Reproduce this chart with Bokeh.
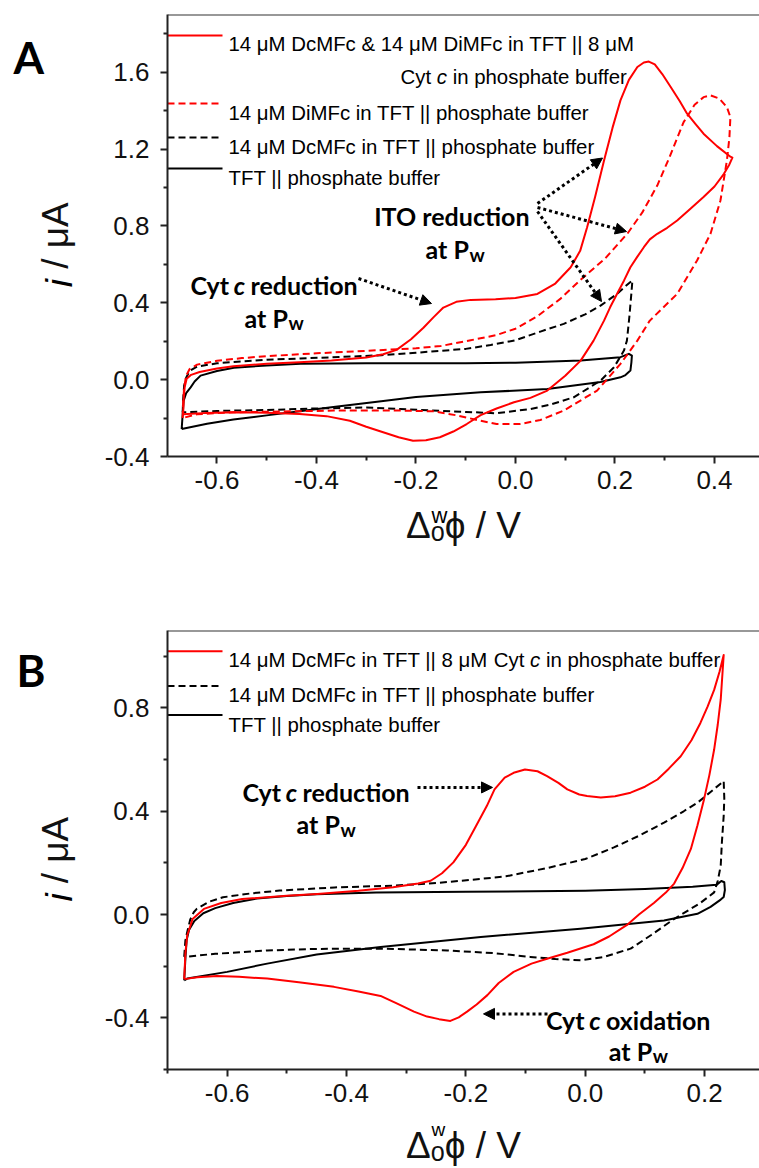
import math
from bokeh.plotting import figure
from bokeh.models import Label, Arrow, NormalHead, Span, FixedTicker, Range1d
from bokeh.layouts import column
from bokeh.embed import file_html
from bokeh.resources import INLINE

# ------------------------------------------------------------------ data
# Panel A  (potential V, current uA) closed CV loops
A_RED_SOLID = [(-0.668,-0.180),(-0.667,-0.100),(-0.665,-0.040),(-0.661,0.005),(-0.652,0.025),(-0.635,0.040),
    (-0.600,0.058),(-0.567,0.070),(-0.500,0.082),(-0.434,0.090),(-0.370,0.100),(-0.300,0.115),(-0.266,0.132),
    (-0.239,0.155),(-0.210,0.210),(-0.185,0.270),(-0.165,0.324),(-0.145,0.375),(-0.119,0.405),(-0.090,0.415),
    (-0.040,0.418),(0.000,0.425),(0.044,0.446),(0.080,0.500),(0.111,0.585),(0.130,0.670),(0.144,0.793),
    (0.160,0.950),(0.178,1.140),(0.195,1.310),(0.211,1.453),(0.228,1.560),(0.245,1.627),(0.258,1.650),
    (0.268,1.655),(0.280,1.640),(0.295,1.590),(0.312,1.523),(0.330,1.450),(0.345,1.384),(0.362,1.330),
    (0.378,1.280),(0.405,1.215),(0.432,1.160),(0.436,1.155),(0.430,1.120),(0.419,1.071),(0.400,1.005),
    (0.378,0.950),(0.350,0.885),(0.325,0.828),(0.305,0.790),(0.285,0.759),(0.270,0.730),(0.258,0.689),
    (0.245,0.640),(0.231,0.585),(0.218,0.515),(0.204,0.446),(0.190,0.375),(0.178,0.307),(0.157,0.203),
    (0.131,0.099),(0.100,0.020),(0.064,-0.057),(0.030,-0.095),(-0.003,-0.118),(-0.038,-0.150),(-0.070,-0.185),
    (-0.098,-0.231),(-0.125,-0.270),(-0.152,-0.300),(-0.180,-0.315),(-0.206,-0.318),(-0.235,-0.300),
    (-0.266,-0.274),(-0.300,-0.245),(-0.333,-0.214),(-0.380,-0.190),(-0.434,-0.179),(-0.500,-0.172),
    (-0.567,-0.170),(-0.620,-0.173),(-0.668,-0.180)]
A_RED_DASH = [(-0.669,-0.200),(-0.668,-0.120),(-0.666,-0.040),(-0.662,0.020),(-0.655,0.055),(-0.640,0.078),
    (-0.600,0.098),(-0.550,0.112),(-0.500,0.122),(-0.400,0.137),(-0.300,0.150),(-0.200,0.163),(-0.150,0.175),
    (-0.090,0.205),(-0.038,0.232),(0.000,0.265),(0.044,0.330),(0.090,0.420),(0.131,0.520),(0.180,0.630),
    (0.225,0.760),(0.255,0.870),(0.285,1.010),(0.310,1.160),(0.338,1.340),(0.360,1.430),(0.378,1.470),
    (0.392,1.479),(0.410,1.462),(0.425,1.418),(0.432,1.366),(0.430,1.260),(0.425,1.141),(0.412,0.932),
    (0.392,0.759),(0.365,0.620),(0.325,0.446),(0.270,0.307),(0.245,0.203),(0.211,0.082),(0.164,-0.057),
    (0.097,-0.161),(0.050,-0.210),(0.010,-0.231),(-0.038,-0.231),(-0.070,-0.214),(-0.120,-0.185),
    (-0.165,-0.165),(-0.250,-0.160),(-0.366,-0.161),(-0.450,-0.165),(-0.567,-0.170),(-0.640,-0.180),(-0.669,-0.200)]
A_BLACK_DASH = [(-0.669,-0.170),(-0.668,-0.100),(-0.666,-0.030),(-0.662,0.010),(-0.655,0.045),(-0.640,0.068),
    (-0.600,0.085),(-0.566,0.092),(-0.500,0.104),(-0.432,0.110),(-0.350,0.118),(-0.270,0.127),(-0.200,0.140),
    (-0.100,0.160),(-0.050,0.180),(0.000,0.205),(0.050,0.250),(0.097,0.290),(0.140,0.340),(0.171,0.385),
    (0.204,0.446),(0.222,0.488),(0.235,0.516),(0.233,0.450),(0.229,0.330),(0.224,0.203),(0.218,0.151),
    (0.198,0.064),(0.171,-0.005),(0.117,-0.092),(0.070,-0.130),(0.030,-0.153),(-0.038,-0.175),(-0.100,-0.168),
    (-0.232,-0.153),(-0.300,-0.145),(-0.400,-0.150),(-0.500,-0.158),(-0.600,-0.163),(-0.669,-0.170)]
A_BLACK_SOLID = [(-0.671,-0.257),(-0.669,-0.180),(-0.667,-0.109),(-0.662,-0.070),(-0.653,-0.040),
    (-0.645,-0.010),(-0.633,0.021),(-0.600,0.045),(-0.566,0.062),(-0.500,0.074),(-0.432,0.082),(-0.300,0.085),
    (-0.100,0.085),(0.000,0.088),(0.131,0.099),(0.211,0.117),(0.228,0.134),(0.234,0.125),(0.233,0.090),
    (0.231,0.047),(0.220,0.022),(0.211,0.012),(0.171,-0.012),(0.064,-0.049),(-0.070,-0.066),(-0.200,-0.090),
    (-0.270,-0.112),(-0.366,-0.142),(-0.430,-0.163),(-0.500,-0.186),(-0.567,-0.208),(-0.620,-0.230),(-0.671,-0.257)]

# Panel B
B_RED_SOLID = [(-0.672,-0.250),(-0.670,-0.150),(-0.667,-0.081),(-0.658,-0.017),(-0.639,0.022),(-0.610,0.045),
    (-0.575,0.060),(-0.500,0.073),(-0.449,0.080),(-0.380,0.092),(-0.322,0.106),(-0.280,0.120),(-0.259,0.131),
    (-0.240,0.160),(-0.221,0.202),(-0.200,0.270),(-0.183,0.343),(-0.165,0.420),(-0.152,0.485),(-0.135,0.530),
    (-0.120,0.549),(-0.101,0.562),(-0.080,0.555),(-0.064,0.536),(-0.045,0.510),(-0.030,0.485),(-0.010,0.465),
    (0.003,0.459),(0.026,0.453),(0.050,0.458),(0.076,0.472),(0.100,0.495),(0.121,0.523),(0.140,0.565),
    (0.160,0.613),(0.178,0.675),(0.193,0.742),(0.205,0.805),(0.216,0.870),(0.225,0.940),(0.232,1.005),
    (0.227,0.832),(0.222,0.735),(0.216,0.639),(0.208,0.540),(0.199,0.446),(0.188,0.345),(0.177,0.254),
    (0.163,0.180),(0.149,0.120),(0.135,0.085),(0.115,0.045),(0.090,0.000),(0.070,-0.040),(0.040,-0.085),
    (0.014,-0.115),(-0.030,-0.148),(-0.064,-0.171),(-0.090,-0.190),(-0.120,-0.222),(-0.145,-0.265),
    (-0.164,-0.312),(-0.182,-0.348),(-0.198,-0.376),(-0.212,-0.398),(-0.226,-0.412),(-0.245,-0.405),
    (-0.265,-0.395),(-0.287,-0.376),(-0.315,-0.345),(-0.343,-0.315),(-0.380,-0.298),(-0.421,-0.280),
    (-0.480,-0.262),(-0.533,-0.248),(-0.580,-0.241),(-0.617,-0.238),(-0.650,-0.243),(-0.672,-0.250)]
B_BLACK_DASH = [(-0.672,-0.164),(-0.670,-0.100),(-0.667,-0.068),(-0.662,-0.020),(-0.656,0.009),(-0.651,0.022),
    (-0.630,0.050),(-0.607,0.067),(-0.560,0.082),(-0.512,0.093),(-0.420,0.105),(-0.322,0.112),(-0.250,0.122),
    (-0.175,0.138),(-0.133,0.148),(-0.064,0.180),(0.000,0.215),(0.048,0.260),(0.090,0.305),(0.132,0.356),
    (0.165,0.400),(0.188,0.433),(0.210,0.475),(0.232,0.517),(0.233,0.450),(0.232,0.382),(0.229,0.280),
    (0.227,0.189),(0.222,0.130),(0.216,0.086),(0.193,0.045),(0.149,-0.017),(0.110,-0.080),(0.076,-0.132),
    (0.030,-0.165),(-0.008,-0.177),(-0.050,-0.172),(-0.092,-0.164),(-0.150,-0.150),(-0.231,-0.139),
    (-0.343,-0.132),(-0.450,-0.133),(-0.533,-0.139),(-0.620,-0.152),(-0.672,-0.164)]
B_BLACK_SOLID = [(-0.672,-0.255),(-0.670,-0.170),(-0.668,-0.100),(-0.664,-0.060),(-0.655,-0.025),
    (-0.640,0.005),(-0.620,0.025),(-0.590,0.045),(-0.550,0.062),(-0.500,0.072),(-0.450,0.079),(-0.350,0.085),
    (-0.200,0.088),(0.000,0.092),(0.100,0.099),(0.180,0.108),(0.220,0.115),(0.228,0.130),(0.233,0.125),
    (0.234,0.095),(0.232,0.068),(0.227,0.058),(0.210,0.030),(0.188,0.003),(0.132,-0.023),(-0.008,-0.055),
    (-0.175,-0.087),(-0.343,-0.126),(-0.450,-0.155),(-0.533,-0.190),(-0.600,-0.222),(-0.667,-0.248),(-0.672,-0.255)]

# tick labels
A_XTICKS = [-0.6, -0.4, -0.2, 0.0, 0.2, 0.4]
A_XTICK_LABELS = ["-0.6", "-0.4", "-0.2", "0.0", "0.2", "0.4"]
A_XMINOR = [-0.7, -0.5, -0.3, -0.1, 0.1, 0.3]
A_YTICKS = [-0.4, 0.0, 0.4, 0.8, 1.2, 1.6]
A_YTICK_LABELS = ["-0.4", "0.0", "0.4", "0.8", "1.2", "1.6"]
A_YMINOR = [-0.2, 0.2, 0.6, 1.0, 1.4, 1.8]
B_XTICKS = [-0.6, -0.4, -0.2, 0.0, 0.2]
B_XTICK_LABELS = ["-0.6", "-0.4", "-0.2", "0.0", "0.2"]
B_XMINOR = [-0.7, -0.5, -0.3, -0.1, 0.1]
B_YTICKS = [-0.4, 0.0, 0.4, 0.8]
B_YTICK_LABELS = ["-0.4", "0.0", "0.4", "0.8"]
B_YMINOR = [-0.6, -0.2, 0.2, 0.6, 1.0]

X_TITLE = "\u0394\u2092\u03d5 / V"
Y_TITLE_VAR = "i"
Y_TITLE_UNIT = "/ \u03bcA"

# ------------------------------------------------------------------ style / layout
RED = "#ff0000"
BLACK = "#000000"
AXIS = "#222222"
DASH = "7 4"
SANS = "Liberation Sans"
BOLD = "Lato"
LEG_FS = 20.4
W = 759
FRAME_L, FRAME_R = 167, 759
MID = {SANS: 0.3465, BOLD: 0.387}   # side-panel labels are centred on their anchor

# Arial advance widths (1/1000 em) for legend layout
AW = {' ':278,'1':556,'4':556,'8':556,'\u03bc':576,'M':833,'D':722,'c':500,'F':611,'&':667,'i':222,
      'n':556,'T':611,'|':260,'C':722,'y':500,'t':278,'p':556,'h':556,'o':556,'s':500,'a':556,'e':556,
      'b':556,'u':556,'f':278,'r':333,'/':278,'A':667}
def tw(s, fs):
    return sum(AW.get(ch, 556) for ch in s) * fs / 1000.0


class Panel:
    def __init__(self, xr, yr, fig_h, top, bottom, page_top, xlab_standoff):
        self.xr, self.yr, self.top, self.bottom = xr, yr, top, bottom
        self.p = figure(width=W, height=fig_h, x_range=Range1d(*xr), y_range=Range1d(*yr),
                        output_backend="svg", toolbar_location=None,
                        min_border_left=FRAME_L, min_border_right=0,
                        min_border_top=top - page_top, min_border_bottom=page_top + fig_h - bottom)
        p = self.p
        p.outline_line_color = None
        p.grid.visible = False
        p.background_fill_color = "white"
        p.border_fill_color = "white"
        for ax in (p.xaxis[0], p.yaxis[0]):
            ax.axis_line_width = 2
            ax.axis_line_color = AXIS
            ax.major_tick_line_width = 2
            ax.major_tick_line_color = AXIS
            ax.minor_tick_line_width = 2
            ax.minor_tick_line_color = AXIS
            ax.major_tick_in = 0
            ax.major_tick_out = 7
            ax.minor_tick_in = 0
            ax.minor_tick_out = 4
            ax.major_label_text_font = SANS
            ax.major_label_text_font_size = "26px"
            ax.major_label_text_color = "#111111"
            ax.axis_label_text_font = SANS
            ax.axis_label_text_font_size = "37px"
            ax.axis_label_text_font_style = "normal"
            ax.axis_label_text_color = "#111111"
        p.xaxis.major_label_standoff = 7
        p.yaxis.major_label_standoff = 11
        p.xaxis.axis_label = X_TITLE
        p.yaxis.axis_label = Y_TITLE_UNIT
        p.xaxis.axis_label_standoff = xlab_standoff
        p.yaxis.axis_label_standoff = 26
        p.add_layout(Span(location=yr[1], dimension="width", line_color="#333333", line_width=2))

    def d(self, xp, yp):
        x0, x1 = self.xr
        y0, y1 = self.yr
        v = x0 + (xp - FRAME_L) / (FRAME_R - FRAME_L) * (x1 - x0)
        i = y1 - (yp - self.top) / (self.bottom - self.top) * (y1 - y0)
        return v, i

    def text(self, xp, yp, s, size, font=SANS, style="normal", align="left", angle=0.0, side=None):
        if side is not None:
            # side-panel labels are drawn centred on the anchor: shift so yp stays the baseline
            if angle == 0.0:
                yp = yp - MID[font] * size
            else:
                xp = xp - MID[font] * size
        v, i = self.d(xp, yp)
        lab = Label(x=v, y=i, x_units="data", y_units="data", text=s, text_font=font,
                    text_font_size=f"{size}px", text_font_style=style, text_align=align,
                    text_baseline="alphabetic", angle=angle, text_color="black")
        if side is None:
            self.p.add_layout(lab)
        else:
            self.p.add_layout(lab, side)

    def curve(self, pts, color, dash="solid"):
        self.p.line([q[0] for q in pts], [q[1] for q in pts], line_color=color, line_width=2,
                    line_dash=dash, line_join="round")

    def leg_line(self, yp, color, dash="solid"):
        v0, i0 = self.d(FRAME_L, yp)
        v1, _ = self.d(222, yp)
        self.p.line([v0, v1], [i0, i0], line_color=color, line_width=2, line_dash=dash)

    def arrow(self, x0, y0, x1, y1):
        a, b = self.d(x0, y0)
        c, e = self.d(x1, y1)
        self.p.add_layout(Arrow(end=NormalHead(size=11, fill_color="black", line_color="black"),
                                x_start=a, y_start=b, x_end=c, y_end=e, line_color="black",
                                line_width=3, line_dash="3 3"))

    def anno(self, xc_c, yb, before, after, fs=25):
        # bold text with an italic "c" centred at xc_c
        self.text(xc_c - 10.5, yb, before, fs, BOLD, "bold", "right")
        self.text(xc_c, yb, "c", fs, BOLD, "bold italic", "center")
        self.text(xc_c + 11, yb, after, fs, BOLD, "bold", "left")

    def at_pw(self, x, yb, fs=25):
        self.text(x, yb, "at P", fs, BOLD, "bold", "left")
        self.text(x + 44, yb + 5, "w", 19, BOLD, "bold", "left")

    def ylabel_var(self, baseline_x, side):
        # italic variable "i" just below the centred "/ uA" axis title
        yc = (self.top + self.bottom) / 2.0
        ystart = yc + tw(Y_TITLE_UNIT, 37) / 2.0 + tw(" i", 37)
        self.text(baseline_x, ystart, Y_TITLE_VAR, 37, SANS, "italic", "left", math.pi / 2, side=side)

    def ticks(self, xt, xl, xm, yt, yl, ym):
        self.p.xaxis.ticker = FixedTicker(ticks=xt, minor_ticks=xm)
        self.p.xaxis.major_label_overrides = {t: l for t, l in zip(xt, xl)}
        self.p.yaxis.ticker = FixedTicker(ticks=yt, minor_ticks=ym)
        self.p.yaxis.major_label_overrides = {t: l for t, l in zip(yt, yl)}


def legend_cyt(P, xc, yb, fs):
    # "Cyt c in phosphate buffer" piece anchored on the italic c position
    P.text(xc - tw(" ", fs), yb, "Cyt", fs, align="right")
    P.text(xc, yb, "c", fs, style="italic")
    P.text(xc + tw("c ", fs), yb, "in phosphate buffer", fs)


# ------------------------------------------------------------------ panel A
A = Panel((-0.6995, 0.4905), (-0.4, 1.9), 600, 14, 456, 0, 13)
A.ticks(A_XTICKS, A_XTICK_LABELS, A_XMINOR, A_YTICKS, A_YTICK_LABELS, A_YMINOR)
A.curve(A_BLACK_SOLID, BLACK)
A.curve(A_BLACK_DASH, BLACK, DASH)
A.curve(A_RED_DASH, RED, DASH)
A.curve(A_RED_SOLID, RED)

A.leg_line(35, RED)
A.text(228, 43.5, "14 \u03bcM DcMFc & 14 \u03bcM DiMFc in TFT || 8 \u03bcM", LEG_FS)
legend_cyt(A, 400 + tw("Cyt ", LEG_FS), 76.7, LEG_FS)
A.leg_line(103, RED, DASH)
A.text(228, 112, "14 \u03bcM DiMFc in TFT || phosphate buffer", LEG_FS)
A.leg_line(137, BLACK, DASH)
A.text(228, 146, "14 \u03bcM DcMFc in TFT || phosphate buffer", LEG_FS)
A.leg_line(168, BLACK)
A.text(228, 177, "TFT || phosphate buffer", LEG_FS)

A.anno(239, 284.5, "Cyt", "reduction")
A.at_pw(244, 317)
A.arrow(358, 278, 431, 303)
A.text(529, 215.5, "ITO reduction", 25, BOLD, "bold", "right")
A.at_pw(425, 248.5)
A.arrow(537, 203, 602, 157.5)
A.arrow(537, 207, 626, 231)
A.arrow(537, 211, 601, 301)

A.text(431, 523, "w", 22, side="below")
A.text(13, 74, "A", 44, BOLD, "bold", side="left")
A.ylabel_var(72, "below")

# ------------------------------------------------------------------ panel B
B = Panel((-0.700, 0.292), (-0.6, 1.1), 568, 630, 1072, 600, 20)
B.ticks(B_XTICKS, B_XTICK_LABELS, B_XMINOR, B_YTICKS, B_YTICK_LABELS, B_YMINOR)
B.curve(B_BLACK_SOLID, BLACK)
B.curve(B_BLACK_DASH, BLACK, DASH)
B.curve(B_RED_SOLID, RED)

B.leg_line(651, RED)
first = "14 \u03bcM DcMFc in TFT || 8 \u03bcM"
B.text(228, 660, first, LEG_FS)
legend_cyt(B, 228 + tw(first + " Cyt ", LEG_FS), 660, LEG_FS)
B.leg_line(686, BLACK, DASH)
B.text(228, 695, "14 \u03bcM DcMFc in TFT || phosphate buffer", LEG_FS)
B.leg_line(715, BLACK)
B.text(228, 725, "TFT || phosphate buffer", LEG_FS)

B.anno(291, 793, "Cyt", "reduction")
B.at_pw(296, 825)
B.arrow(417, 788, 492, 788)
B.anno(594.5, 1021.7, "Cyt", "oxidation")
B.at_pw(608.3, 1053.3)
B.arrow(547, 1016, 483, 1016)

B.text(431, 1139, "w", 19, side="above")
B.text(16, 687, "B", 44, BOLD, "bold", side="left")
B.ylabel_var(72, "above")

layout = column(A.p, B.p, spacing=0)
open("out.html", "w").write(file_html(layout, INLINE))
